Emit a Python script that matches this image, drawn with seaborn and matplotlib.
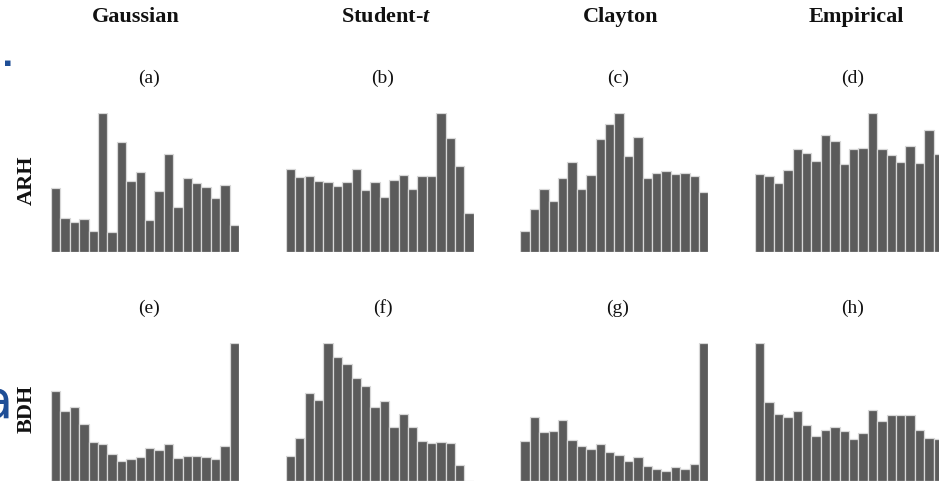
import numpy as np
import pandas as pd
import matplotlib
matplotlib.use("Agg")
import matplotlib.pyplot as plt
import seaborn as sns

# ---- data (bar heights, arbitrary units) ----
columns = ["Gaussian", "Student-$t$", "Clayton", "Empirical"]
rows = ["ARH", "BDH"]
panel_labels = ["(a)", "(b)", "(c)", "(d)", "(e)", "(f)", "(g)", "(h)"]

arh_gaussian = [190, 102, 90, 97, 62, 415, 60, 328, 212, 240, 94, 181, 292, 134, 220, 206, 195, 160, 199, 81]
arh_student = [247, 223, 228, 212, 208, 198, 209, 249, 184, 209, 165, 215, 230, 189, 228, 226, 415, 340, 256, 117]
arh_clayton = [63, 129, 187, 152, 222, 269, 187, 230, 337, 382, 415, 287, 344, 221, 235, 241, 232, 235, 228, 178]
arh_empirical = [233, 227, 205, 245, 308, 297, 272, 350, 333, 263, 309, 312, 415, 307, 290, 268, 318, 267, 364, 292]

bdh_gaussian = [269, 209, 223, 170, 116, 110, 80, 59, 67, 71, 100, 94, 112, 70, 76, 75, 71, 65, 105, 413]
bdh_student = [76, 128, 264, 244, 413, 371, 352, 310, 284, 221, 241, 161, 201, 161, 119, 115, 117, 114, 48, 1]
bdh_clayton = [120, 192, 146, 149, 184, 122, 104, 96, 110, 86, 77, 60, 72, 44, 35, 29, 42, 35, 50, 413]
bdh_empirical = [413, 238, 202, 191, 210, 168, 136, 153, 162, 150, 126, 143, 212, 179, 197, 199, 197, 153, 129, 126]

panels = [arh_gaussian, arh_student, arh_clayton, arh_empirical,
          bdh_gaussian, bdh_student, bdh_clayton, bdh_empirical]

# ---- style ----
sns.set_style("white")
plt.rcParams["font.family"] = ["Liberation Serif", "DejaVu Serif"]
plt.rcParams["mathtext.fontset"] = "custom"
plt.rcParams["mathtext.it"] = "Liberation Serif:italic:bold"
plt.rcParams["mathtext.rm"] = "Liberation Serif:bold"

W, H = 939, 484
fig = plt.figure(figsize=(W / 100, H / 100), dpi=100)

def px(x, y):
    return x / W, 1 - y / H

bar_color = "#5b5b5b"
edge_color = "#d8d8d8"

col_left = [51, 285.7, 520.3, 755]
col_width = 188
row_base = [251.7, 481]
row_height = [138.4, 137.7]

for i, vals in enumerate(panels):
    r, c = divmod(i, 4)
    left = col_left[c] / W
    bottom = 1 - row_base[r] / H
    ax = fig.add_axes([left, bottom, col_width / W, row_height[r] / H])
    df = pd.DataFrame({"bin": np.arange(len(vals)), "count": vals})
    sns.barplot(data=df, x="bin", y="count", color=bar_color, saturation=1,
                width=1.0, edgecolor=edge_color, linewidth=0.9, ax=ax)
    ax.set_xlim(-0.5, len(vals) - 0.5)
    ax.set_ylim(0, max(vals))
    ax.set_axis_off()

# column titles
title_x = [136, 386, 621, 856]
for name, x in zip(columns, title_x):
    fig.text(*px(x, 17), name, ha="center", va="center",
             fontsize=16, fontweight="bold", color="#111111")

# panel labels
label_x = [149, 383, 618, 853]
label_y = [78, 308]
for i, lab in enumerate(panel_labels):
    r, c = divmod(i, 4)
    fig.text(*px(label_x[c], label_y[r]), lab, ha="center", va="center",
             fontsize=14, color="#111111")

# row labels
row_y = [180, 409]
for name, y in zip(rows, row_y):
    fig.text(*px(27, y), name, ha="center", va="center", rotation=90,
             fontsize=16, fontweight="bold", color="#111111")

# slide artefacts (blue text fragments on the left edge)
fig.text(*px(13, 403), "a", ha="right", va="center", fontsize=38,
         color="#1f4e96", family=["DejaVu Sans"])
fig.text(*px(7.5, 63.5), "\u25aa", ha="center", va="center", fontsize=8,
         color="#1f4e96", family=["DejaVu Sans"])

fig.savefig("out.png", dpi=100)
